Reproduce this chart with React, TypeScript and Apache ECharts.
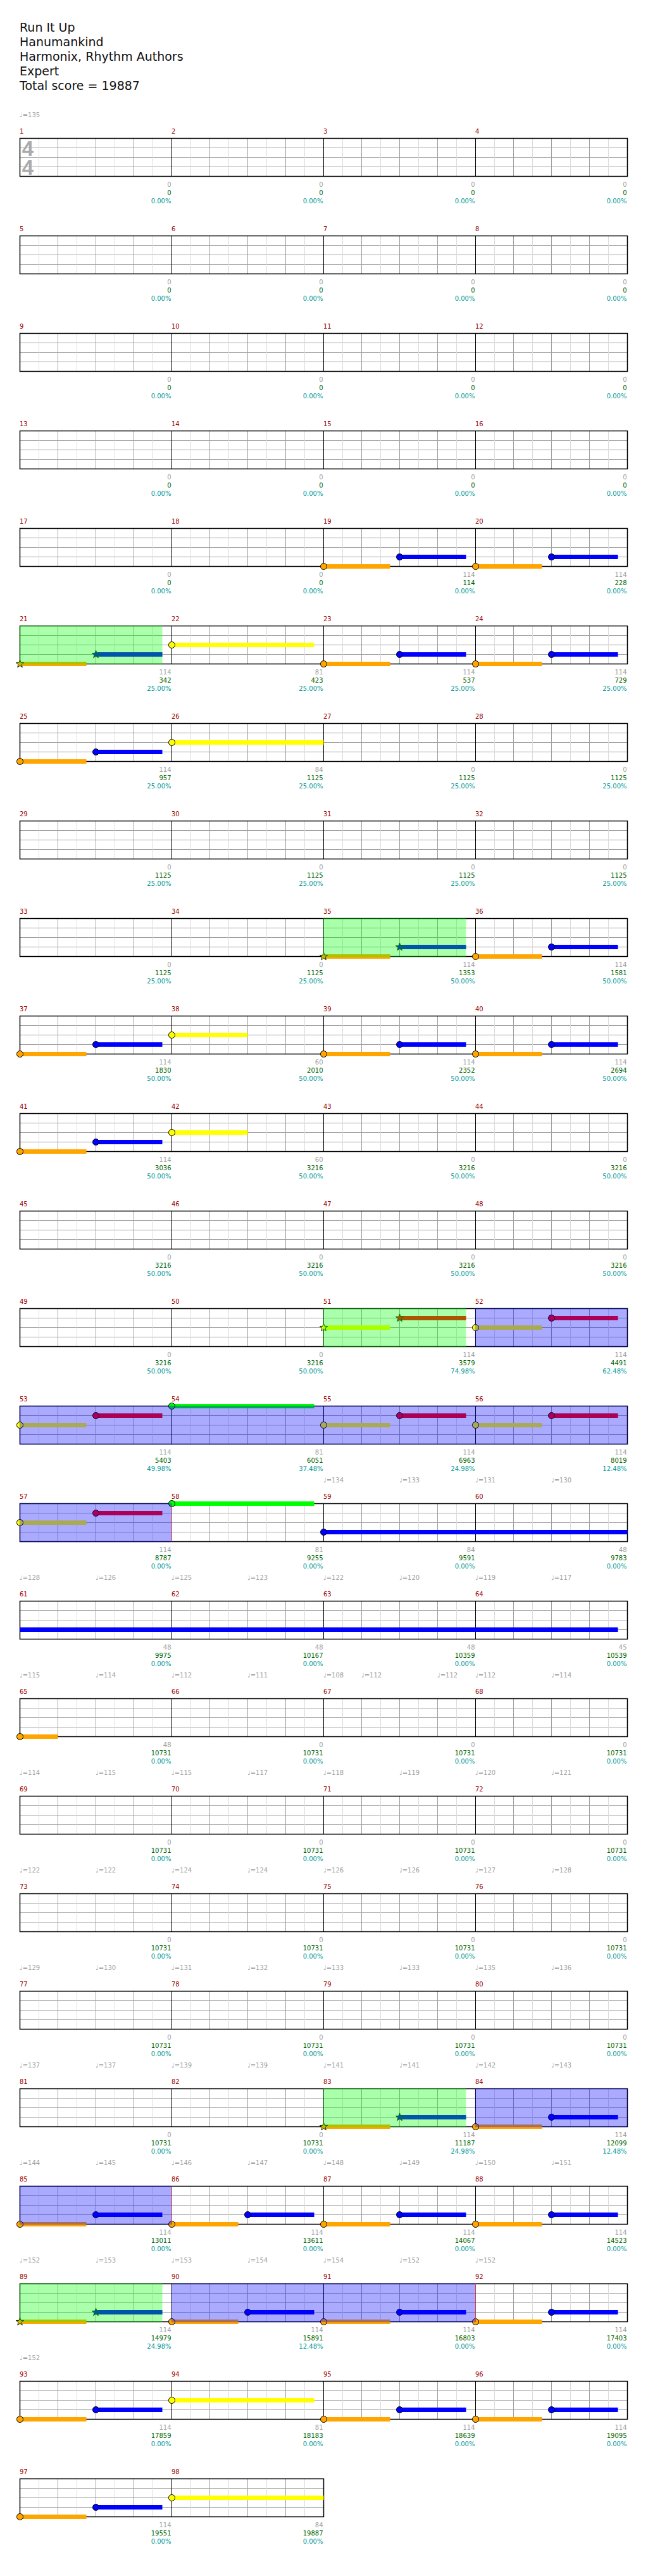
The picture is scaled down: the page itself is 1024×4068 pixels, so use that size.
import React, { useEffect, useRef } from "react";
import * as echarts from "echarts";

// ---------------- DATA ----------------
const TITLE_LINES = ["Run It Up", "Hanumankind", "Harmonix, Rhythm Authors", "Expert", "Total score = 19887"];
const MEASURE_COUNT = 98;
const MEASURES_PER_ROW = 4;
const BEATS_PER_MEASURE = 4;
const TIME_SIGNATURE = ["4", "4"];

// points scored in each measure (grey)
const MEASURE_SCORES = [
  0, 0, 0, 0, 0, 0, 0, 0, 0, 0, 0, 0, 0, 0, 0, 0, 0, 0,
  114, 114, 114, 81, 114, 114, 114, 84,
  0, 0, 0, 0, 0, 0, 0, 0,
  114, 114, 114, 60, 114, 114, 114, 60,
  0, 0, 0, 0, 0, 0, 0, 0,
  114, 114, 114, 81, 114, 114, 114, 81, 84, 48, 48, 48, 48, 45, 48,
  0, 0, 0, 0, 0, 0, 0, 0, 0, 0, 0, 0, 0, 0, 0, 0, 0,
  114, 114, 114, 114, 114, 114, 114, 114, 114, 114, 114, 81, 114, 114, 114, 84,
];

// running total (green)
const TOTAL_SCORES = [
  0, 0, 0, 0, 0, 0, 0, 0, 0, 0, 0, 0, 0, 0, 0, 0, 0, 0,
  114, 228, 342, 423, 537, 729, 957, 1125,
  1125, 1125, 1125, 1125, 1125, 1125, 1125, 1125,
  1353, 1581, 1830, 2010, 2352, 2694, 3036, 3216,
  3216, 3216, 3216, 3216, 3216, 3216, 3216, 3216,
  3579, 4491, 5403, 6051, 6963, 8019, 8787, 9255, 9591, 9783, 9975, 10167, 10359, 10539, 10731,
  10731, 10731, 10731, 10731, 10731, 10731, 10731, 10731, 10731, 10731, 10731, 10731, 10731, 10731, 10731, 10731, 10731,
  11187, 12099, 13011, 13611, 14067, 14523, 14979, 15891, 16803, 17403, 17859, 18183, 18639, 19095, 19551, 19887,
];

// overdrive meter (cyan), percent
const OVERDRIVE_METER = [
  0, 0, 0, 0, 0, 0, 0, 0, 0, 0, 0, 0, 0, 0, 0, 0, 0, 0, 0, 0,
  25, 25, 25, 25, 25, 25, 25, 25, 25, 25, 25, 25, 25, 25,
  50, 50, 50, 50, 50, 50, 50, 50, 50, 50, 50, 50, 50, 50, 50, 50,
  74.98, 62.48, 49.98, 37.48, 24.98, 12.48,
  0, 0, 0, 0, 0, 0, 0, 0, 0, 0, 0, 0, 0, 0, 0, 0, 0, 0, 0, 0, 0, 0, 0, 0, 0, 0,
  24.98, 12.48,
  0, 0, 0, 0,
  24.98, 12.48,
  0, 0, 0, 0, 0, 0, 0, 0,
];

// lanes from bottom line to top line
const LANE_NAMES = ["O", "B", "Y", "R", "G"];

// [measure, lane, start beat, end beat (from measure start), star note]
const NOTES: [number, string, number, number, number][] = [
  [19, "O", 0, 1.75, 0], [19, "B", 2, 3.75, 0],
  [20, "O", 0, 1.75, 0], [20, "B", 2, 3.75, 0],
  [21, "O", 0, 1.75, 1], [21, "B", 2, 3.75, 1],
  [22, "Y", 0, 3.75, 0],
  [23, "O", 0, 1.75, 0], [23, "B", 2, 3.75, 0],
  [24, "O", 0, 1.75, 0], [24, "B", 2, 3.75, 0],
  [25, "O", 0, 1.75, 0], [25, "B", 2, 3.75, 0],
  [26, "Y", 0, 4, 0],
  [35, "O", 0, 1.75, 1], [35, "B", 2, 3.75, 1],
  [36, "O", 0, 1.75, 0], [36, "B", 2, 3.75, 0],
  [37, "O", 0, 1.75, 0], [37, "B", 2, 3.75, 0],
  [38, "Y", 0, 2, 0],
  [39, "O", 0, 1.75, 0], [39, "B", 2, 3.75, 0],
  [40, "O", 0, 1.75, 0], [40, "B", 2, 3.75, 0],
  [41, "O", 0, 1.75, 0], [41, "B", 2, 3.75, 0],
  [42, "Y", 0, 2, 0],
  [51, "Y", 0, 1.75, 1], [51, "R", 2, 3.75, 1],
  [52, "Y", 0, 1.75, 0], [52, "R", 2, 3.75, 0],
  [53, "Y", 0, 1.75, 0], [53, "R", 2, 3.75, 0],
  [54, "G", 0, 3.75, 0],
  [55, "Y", 0, 1.75, 0], [55, "R", 2, 3.75, 0],
  [56, "Y", 0, 1.75, 0], [56, "R", 2, 3.75, 0],
  [57, "Y", 0, 1.75, 0], [57, "R", 2, 3.75, 0],
  [58, "G", 0, 3.75, 0],
  [59, "B", 0, 23.75, 0],
  [65, "O", 0, 1, 0],
  [83, "O", 0, 1.75, 1], [83, "B", 2, 3.75, 1],
  [84, "O", 0, 1.75, 0], [84, "B", 2, 3.75, 0],
  [85, "O", 0, 1.75, 0], [85, "B", 2, 3.75, 0],
  [86, "O", 0, 1.75, 0], [86, "B", 2, 3.75, 0],
  [87, "O", 0, 1.75, 0], [87, "B", 2, 3.75, 0],
  [88, "O", 0, 1.75, 0], [88, "B", 2, 3.75, 0],
  [89, "O", 0, 1.75, 1], [89, "B", 2, 3.75, 1],
  [90, "O", 0, 1.75, 0], [90, "B", 2, 3.75, 0],
  [91, "O", 0, 1.75, 0], [91, "B", 2, 3.75, 0],
  [92, "O", 0, 1.75, 0], [92, "B", 2, 3.75, 0],
  [93, "O", 0, 1.75, 0], [93, "B", 2, 3.75, 0],
  [94, "Y", 0, 3.75, 0],
  [95, "O", 0, 1.75, 0], [95, "B", 2, 3.75, 0],
  [96, "O", 0, 1.75, 0], [96, "B", 2, 3.75, 0],
  [97, "O", 0, 1.75, 0], [97, "B", 2, 3.75, 0],
  [98, "Y", 0, 4, 0],
];

// [measure, start beat, end beat (from measure start)]
const OVERDRIVE_PHRASES: [number, number, number][] = [
  [21, 0, 3.75], [35, 0, 3.75], [51, 0, 3.75], [83, 0, 3.75], [89, 0, 3.75],
];
const ACTIVATIONS: [number, number, number][] = [
  [52, 0, 24], [84, 0, 8], [90, 0, 8],
];

// [measure, beat, bpm]
const TEMPOS: [number, number, number][] = [
  [1, 0, 135],
  [59, 0, 134], [59, 2, 133], [60, 0, 131], [60, 2, 130],
  [61, 0, 128], [61, 2, 126], [62, 0, 125], [62, 2, 123], [63, 0, 122], [63, 2, 120], [64, 0, 119], [64, 2, 117],
  [65, 0, 115], [65, 2, 114], [66, 0, 112], [66, 2, 111], [67, 0, 108], [67, 1, 112], [67, 3, 112], [68, 0, 112], [68, 2, 114],
  [69, 0, 114], [69, 2, 115], [70, 0, 115], [70, 2, 117], [71, 0, 118], [71, 2, 119], [72, 0, 120], [72, 2, 121],
  [73, 0, 122], [73, 2, 122], [74, 0, 124], [74, 2, 124], [75, 0, 126], [75, 2, 126], [76, 0, 127], [76, 2, 128],
  [77, 0, 129], [77, 2, 130], [78, 0, 131], [78, 2, 132], [79, 0, 133], [79, 2, 133], [80, 0, 135], [80, 2, 136],
  [81, 0, 137], [81, 2, 137], [82, 0, 139], [82, 2, 139], [83, 0, 141], [83, 2, 141], [84, 0, 142], [84, 2, 143],
  [85, 0, 144], [85, 2, 145], [86, 0, 146], [86, 2, 147], [87, 0, 148], [87, 2, 149], [88, 0, 150], [88, 2, 151],
  [89, 0, 152], [89, 2, 153], [90, 0, 153], [90, 2, 154], [91, 0, 154], [91, 2, 152], [92, 0, 152],
  [93, 0, 152],
];

// ---------------- LAYOUT / STYLE ----------------
const STAFF_LEFT = 31.5;
const FIRST_TOP = 218.5;
const ROW_GAP = 154;
const STAFF_H = 60;
const MEASURE_W = 240;
const LANE_COLORS = ["#ffa500", "#0000ff", "#ffff00", "#ff0000", "#00ff00"];
const FONT = "DejaVu Sans";

const ROWS = Math.ceil(MEASURE_COUNT / MEASURES_PER_ROW);
const ROW_BEATS = MEASURES_PER_ROW * BEATS_PER_MEASURE;
const absBeat = (m: number, b: number) => (m - 1) * BEATS_PER_MEASURE + b;

function splitSpan(a: number, b: number) {
  const out: { row: number; s: number; e: number; first: boolean }[] = [];
  for (let r = Math.floor(a / ROW_BEATS); r * ROW_BEATS < b; r++) {
    const s = Math.max(a, r * ROW_BEATS);
    const e = Math.min(b, (r + 1) * ROW_BEATS);
    out.push({ row: r, s: s - r * ROW_BEATS, e: e - r * ROW_BEATS, first: s === a });
  }
  return out;
}

function starPoints(cx: number, cy: number, R: number, r: number) {
  const pts: number[][] = [];
  for (let i = 0; i < 10; i++) {
    const ang = -Math.PI / 2 + (i * Math.PI) / 5;
    const rad = i % 2 === 0 ? R : r;
    pts.push([cx + rad * Math.cos(ang), cy + rad * Math.sin(ang)]);
  }
  return pts;
}

function buildOption() {
  const rowNotes: number[][][] = Array.from({ length: ROWS }, () => []);
  const rowShades: number[][][] = Array.from({ length: ROWS }, () => []);
  const rowEnds: number[][][] = Array.from({ length: ROWS }, () => []);
  const rowTempos: number[][][] = Array.from({ length: ROWS }, () => []);
  const rowMeasures: number[][][] = Array.from({ length: ROWS }, () => []);

  NOTES.forEach(([m, lane, s, e, star]) => {
    const li = LANE_NAMES.indexOf(lane);
    splitSpan(absBeat(m, s), absBeat(m, e)).forEach((seg) => {
      rowNotes[seg.row].push([seg.s, li, seg.e, seg.first ? 1 : 0, star]);
    });
  });
  OVERDRIVE_PHRASES.forEach(([m, s, e]) => {
    splitSpan(absBeat(m, s), absBeat(m, e)).forEach((seg) => rowShades[seg.row].push([seg.s, 4, seg.e, 0]));
  });
  ACTIVATIONS.forEach(([m, s, e]) => {
    const segs = splitSpan(absBeat(m, s), absBeat(m, e));
    segs.forEach((seg) => rowShades[seg.row].push([seg.s, 4, seg.e, 1]));
    const last = segs[segs.length - 1];
    rowEnds[last.row].push([last.e, 4]);
  });
  TEMPOS.forEach(([m, b, bpm]) => {
    const a = absBeat(m, b);
    const r = Math.floor(a / ROW_BEATS);
    rowTempos[r].push([a - r * ROW_BEATS, 4, bpm]);
  });
  for (let m = 1; m <= MEASURE_COUNT; m++) {
    const r = Math.floor((m - 1) / MEASURES_PER_ROW);
    rowMeasures[r].push([absBeat(m, 0) - r * ROW_BEATS, 4, m]);
  }

  const grid: any[] = [];
  const xAxis: any[] = [];
  const yAxis: any[] = [];
  const series: any[] = [];
  const hidden = { axisLine: { show: false }, axisTick: { show: false }, axisLabel: { show: false } };

  for (let r = 0; r < ROWS; r++) {
    const nm = rowMeasures[r].length;
    grid.push({
      left: STAFF_LEFT,
      top: FIRST_TOP + ROW_GAP * r,
      width: MEASURE_W * nm,
      height: STAFF_H,
      outerBoundsMode: "none",
      containLabel: false,
    });
    xAxis.push({
      gridIndex: r, type: "value", min: 0, max: nm * BEATS_PER_MEASURE, interval: 1, ...hidden,
      splitLine: { show: true, lineStyle: { color: "#a0a0a0", width: 1 } },
      minorTick: { show: false, splitNumber: 2 },
      minorSplitLine: { show: true, lineStyle: { color: "#dcdcdc", width: 1 } },
    });
    yAxis.push({
      gridIndex: r, type: "value", min: 0, max: 4, interval: 1, ...hidden,
      splitLine: { show: true, lineStyle: { color: "#a0a0a0", width: 1 } },
    });
    const base = { type: "custom", coordinateSystem: "cartesian2d", xAxisIndex: r, yAxisIndex: r, silent: true, clip: false };

    // staff frame + measure bar lines
    series.push({
      ...base, z: 2, data: rowMeasures[r],
      renderItem: (params: any, api: any) => {
        const s = api.value(0);
        const t = api.coord([s, 4]);
        const b = api.coord([s, 0]);
        const children: any[] = [];
        if (s > 0) {
          children.push({ type: "line", shape: { x1: t[0], y1: t[1], x2: b[0], y2: b[1] }, style: { stroke: "#000", lineWidth: 1 } });
        }
        if (params.dataIndex === 0) {
          const cs = params.coordSys;
          children.push({ type: "rect", shape: { x: cs.x, y: cs.y, width: cs.width, height: cs.height }, style: { fill: "none", stroke: "#000", lineWidth: 1.5 } });
        }
        return { type: "group", children };
      },
    });

    // notes
    series.push({
      ...base, z: 3, data: rowNotes[r],
      renderItem: (params: any, api: any) => {
        const s = api.value(0), lane = api.value(1), e = api.value(2), head = api.value(3), star = api.value(4);
        const p0 = api.coord([s, lane]);
        const p1 = api.coord([e, lane]);
        const color = LANE_COLORS[lane];
        const children: any[] = [
          { type: "rect", shape: { x: p0[0], y: p0[1] - 3.5, width: p1[0] - p0[0], height: 7 }, style: { fill: color } },
        ];
        if (head) {
          if (star) {
            children.push({ type: "polygon", shape: { points: starPoints(p0[0], p0[1], 6.5, 2.7) }, style: { fill: color, stroke: "#003300", lineWidth: 1 } });
          } else {
            children.push({ type: "circle", shape: { cx: p0[0], cy: p0[1], r: 5 }, style: { fill: color, stroke: "#000", lineWidth: 1 } });
          }
        }
        return { type: "group", children };
      },
    });

    // overdrive phrase (green) / activation (blue) shading
    series.push({
      ...base, z: 4, data: rowShades[r],
      renderItem: (params: any, api: any) => {
        const a = api.coord([api.value(0), 4]);
        const b = api.coord([api.value(2), 0]);
        const kind = api.value(3);
        return {
          type: "rect",
          shape: { x: a[0] - 0.75, y: a[1] - 0.75, width: b[0] - a[0] + 0.75, height: b[1] - a[1] + 1.5 },
          style: { fill: kind ? "rgba(0,0,255,0.333)" : "rgba(0,255,0,0.333)" },
        };
      },
    });

    // activation end marker
    series.push({
      ...base, z: 5, data: rowEnds[r],
      renderItem: (params: any, api: any) => {
        const t = api.coord([api.value(0), 4]);
        const b = api.coord([api.value(0), 0]);
        return { type: "line", shape: { x1: t[0], y1: t[1], x2: b[0], y2: b[1] }, style: { stroke: "#d04040", lineWidth: 1 } };
      },
    });

    // measure numbers and per-measure labels
    series.push({
      ...base, z: 6, data: rowMeasures[r],
      renderItem: (params: any, api: any) => {
        const s = api.value(0);
        const m = api.value(2);
        const t = api.coord([s, 4]);
        const te = api.coord([s + BEATS_PER_MEASURE, 4]);
        const T = t[1];
        const txt = (x: number, y: number, text: string, fill: string, align: string) => ({
          type: "text", x, y,
          style: { text, fill, align, verticalAlign: "middle", fontSize: 10, fontFamily: FONT },
        });
        const children: any[] = [
          txt(t[0] - 0.5, T - 11, String(m), "#990000", "left"),
          txt(te[0] - 1, T + 73, String(MEASURE_SCORES[m - 1]), "#a0a0a0", "right"),
          txt(te[0] - 1, T + 86, String(TOTAL_SCORES[m - 1]), "#006400", "right"),
          txt(te[0] - 1, T + 99, OVERDRIVE_METER[m - 1].toFixed(2) + "%", "#009999", "right"),
        ];
        if (m === 1) {
          TIME_SIGNATURE.forEach((d, i) => {
            children.push({
              type: "text", x: t[0] + 12.5, y: T + 15.5 + 30 * i,
              style: { text: d, fill: "#aaaaaa", align: "center", verticalAlign: "middle", fontSize: 33, fontWeight: "bold", fontFamily: "Liberation Sans" },
            });
          });
        }
        return { type: "group", children };
      },
    });

    // tempo markings above the row
    series.push({
      ...base, z: 6, data: rowTempos[r],
      renderItem: (params: any, api: any) => {
        const p = api.coord([api.value(0), 4]);
        return {
          type: "text", x: p[0] - 0.5, y: p[1] - 37,
          style: { text: "\u2669=" + api.value(2), fill: "#a0a0a0", align: "left", verticalAlign: "middle", fontSize: 10, fontFamily: FONT },
        };
      },
    });
  }

  const graphic = TITLE_LINES.map((line, i) => ({
    type: "text",
    x: 31,
    y: 42.7 + 23 * i,
    style: { text: line, fill: "#111", fontSize: 19, fontFamily: FONT, verticalAlign: "middle", align: "left" },
  }));

  return { animation: false, backgroundColor: "#ffffff", grid, xAxis, yAxis, series, graphic };
}

export default function App() {
  const ref = useRef<HTMLDivElement>(null);
  useEffect(() => {
    if (!ref.current) return;
    const chart = echarts.init(ref.current, null, { renderer: "svg" });
    chart.setOption(buildOption() as any);
    return () => chart.dispose();
  }, []);
  return (
    <div
      ref={ref}
      style={{ position: "absolute", left: 0, top: 0, width: 1024, height: 4068, background: "#fff" }}
    />
  );
}
